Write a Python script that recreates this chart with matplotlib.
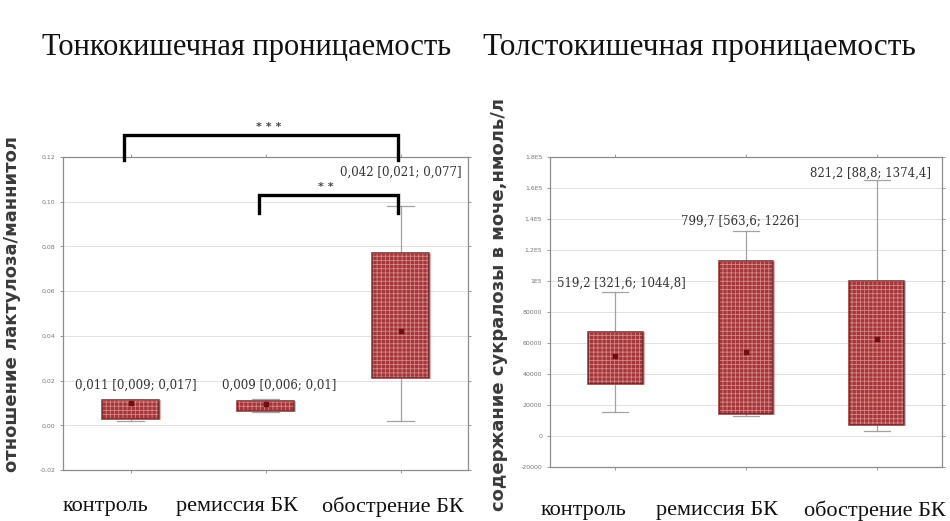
import matplotlib
matplotlib.use("Agg")
import matplotlib.pyplot as plt
import numpy as np

# Lactulose/mannitol ratio (small intestine permeability)
groups = ["контроль", "ремиссия БК", "обострение БК"]
lm_whislo = [0.0020, 0.0060, 0.0018]
lm_q1 = [0.0027, 0.0062, 0.0213]
lm_med = [0.0100, 0.0095, 0.0422]
lm_q3 = [0.0111, 0.0107, 0.0769]
lm_whishi = [0.0112, 0.0118, 0.0980]
lm_text = ["0,011 [0,009; 0,017]", "0,009 [0,006; 0,01]", "0,042 [0,021; 0,077]"]
lm_yticks = [-0.02, 0.0, 0.02, 0.04, 0.06, 0.08, 0.10, 0.12]
lm_yticklabels = ["-0,02", "0,00", "0,02", "0,04", "0,06", "0,08", "0,10", "0,12"]

# Sucralose in urine (large intestine permeability)
su_whislo = [15500, 13000, 3200]
su_q1 = [33600, 14200, 7100]
su_med = [51800, 54300, 62800]
su_q3 = [67300, 112600, 100300]
su_whishi = [93200, 132000, 165000]
su_text = ["519,2 [321,6; 1044,8]", "799,7 [563,6; 1226]", "821,2 [88,8; 1374,4]"]
su_yticks = [-20000, 0, 20000, 40000, 60000, 80000, 100000, 120000, 140000, 160000, 180000]
su_yticklabels = ["-20000", "0", "20000", "40000", "60000", "80000",
                  "1E5", "1,2E5", "1,4E5", "1,6E5", "1,8E5"]

# significance brackets on the left panel: (from group, to group, stars)
lm_brackets = [(0, 2, "* * *"), (1, 2, "* *")]

FILL = "#a3363a"
HATCH = "#d88585"
EDGE = "#5e2a2c"
WHISK = "#a8a0a0"
SERIF = "Liberation Serif"

plt.rcParams["hatch.linewidth"] = 0.6

fig = plt.figure(figsize=(9.5, 5.21), dpi=100)
ax1 = fig.add_axes([63 / 950, 1 - 470 / 521, 405 / 950, 313 / 521])
ax2 = fig.add_axes([550 / 950, 1 - 467 / 521, 392 / 950, 310 / 521])


def stats(lo, q1, med, q3, hi):
    return [dict(whislo=a, q1=b, med=c, q3=d, whishi=e, fliers=[])
            for a, b, c, d, e in zip(lo, q1, med, q3, hi)]


def draw_boxes(ax, st):
    pos = np.arange(len(st))
    common = dict(positions=pos, patch_artist=True, showfliers=False, manage_ticks=False)
    ax.bxp(st, widths=0.42, **common,
           boxprops=dict(facecolor=FILL, edgecolor=HATCH, hatch="++++", linewidth=0),
           whiskerprops=dict(color=WHISK, linewidth=0.9),
           capprops=dict(color=WHISK, linewidth=0.9),
           medianprops=dict(linewidth=0), capwidths=0.2, zorder=3)
    ax.bxp(st, widths=0.42, showcaps=False, **common,
           boxprops=dict(facecolor="none", edgecolor=EDGE, linewidth=1.1),
           whiskerprops=dict(linewidth=0), medianprops=dict(linewidth=0), zorder=4)
    # outer red halo of the boxes
    ax.bxp(st, widths=0.435, showcaps=False, **common,
           boxprops=dict(facecolor="none", edgecolor="#e06060", linewidth=0.6, alpha=0.6),
           whiskerprops=dict(linewidth=0), medianprops=dict(linewidth=0), zorder=4)
    ax.plot(pos, [s["med"] for s in st], "s", color="#6e0f12", markersize=3, zorder=5)


def style_axes(ax, yticks, ylabels):
    ax.set_xlim(-0.5, 2.5)
    ax.set_ylim(yticks[0], yticks[-1])
    ax.set_yticks(yticks)
    ax.set_yticklabels(ylabels, fontsize=4.5, color="#777777")
    ax.set_xticks([0, 1, 2])
    ax.set_xticklabels([])
    ax.tick_params(axis="both", length=2.5, width=0.6, color="#888888",
                   top=True, right=True, pad=3)
    ax.grid(axis="y", color="#e2e2e2", linewidth=0.7, zorder=0)
    ax.set_axisbelow(True)
    for sp in ax.spines.values():
        sp.set_color("#8c8c8c")
        sp.set_linewidth(0.9)


draw_boxes(ax1, stats(lm_whislo, lm_q1, lm_med, lm_q3, lm_whishi))
draw_boxes(ax2, stats(su_whislo, su_q1, su_med, su_q3, su_whishi))
style_axes(ax1, lm_yticks, lm_yticklabels)
style_axes(ax2, su_yticks, su_yticklabels)

# value annotations
for ax, texts, xs, ys in [
    (ax1, lm_text, [0.04, 1.1, 2.0], [0.0178, 0.0178, 0.1133]),
    (ax2, su_text, [0.05, 0.95, 1.95], [98300, 138500, 169500]),
]:
    for t, x, y in zip(texts, xs, ys):
        ax.text(x, y, t, ha="center", va="center", fontsize=8.5,
                family="DejaVu Serif", color="#333333", zorder=6)

# significance brackets: (bar height, leg bottom, star offset) in data units
bracket_y = {"* * *": (0.1298, 0.1187, 0.06), "* *": (0.1031, 0.0951, -0.02)}
for i, j, stars in lm_brackets:
    top, leg, dx = bracket_y[stars]
    x0 = i - 0.05
    x1 = j - 0.02
    ax1.plot([x0, x0, x1, x1], [leg, top, top, leg], color="black", linewidth=2.4,
             solid_joinstyle="miter", clip_on=False, zorder=7)
    ax1.text((x0 + x1) / 2 + dx, top + 0.0012, stars, ha="center", va="bottom",
             fontsize=8, fontweight="bold", color="#444444", clip_on=False, zorder=7)

# category names under each panel
for ax, xs, y in [(ax1, [0.104, 0.43, 0.815], -0.118), (ax2, [0.085, 0.425, 0.828], -0.14)]:
    for g, x in zip(groups, xs):
        ax.text(x, y, g, transform=ax.transAxes, ha="center", va="center",
                fontsize=16, family=SERIF, color="#111111")

ax1.text(-0.125, 0.53, "отношение лактулоза/маннитол", transform=ax1.transAxes,
         rotation=90, ha="center", va="center", fontsize=13, fontweight="bold",
         color="#3a3a3a", family="DejaVu Sans")
ax2.text(-0.130, 0.523, "содержание сукралозы в моче,нмоль/л", transform=ax2.transAxes,
         rotation=90, ha="center", va="center", fontsize=13, fontweight="bold",
         color="#3a3a3a", family="DejaVu Sans")

fig.text(247 / 950, 1 - 47 / 521, "Тонкокишечная проницаемость", ha="center",
         va="center", fontsize=22, family=SERIF, color="#111111")
fig.text(699 / 950, 1 - 47 / 521, "Толстокишечная проницаемость", ha="center",
         va="center", fontsize=22.5, family=SERIF, color="#111111")

fig.savefig("out.png", dpi=100)
